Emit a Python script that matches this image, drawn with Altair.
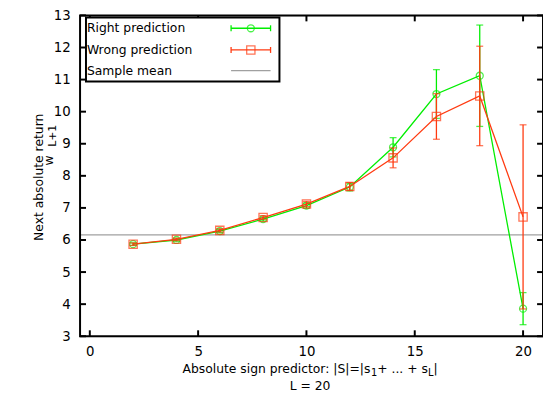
import altair as alt
import pandas as pd

# ---- data ----
L_values = [2, 4, 6, 8, 10, 12, 14, 16, 18, 20]
right_mean = [5.87, 6.00, 6.28, 6.65, 7.07, 7.65, 8.89, 10.55, 11.12, 3.86]
right_err = [0.04, 0.04, 0.05, 0.06, 0.08, 0.12, 0.30, 0.76, 1.58, 0.50]
wrong_mean = [5.87, 6.02, 6.30, 6.70, 7.12, 7.67, 8.56, 9.85, 10.49, 6.72]
wrong_err = [0.04, 0.04, 0.05, 0.06, 0.08, 0.12, 0.31, 0.71, 1.55, 2.87]
sample_mean = 6.16
x_ticks = [0, 5, 10, 15, 20]
y_ticks = [3, 4, 5, 6, 7, 8, 9, 10, 11, 12, 13]
legend_names = ["Right prediction", "Wrong prediction", "Sample mean"]

GREEN = "#00ee00"
RED = "#ff3a10"
GRAY = "#a0a0a0"
FONT = "DejaVu Sans"
FS = 12.5
SUB = 10

W, H = 469, 325
XD = [-0.45, 20.92]
YD = [3, 13]

# approximate DejaVu Sans advance widths (per 1000 em) for laying out the title pieces
DW = {" ": 318, "A": 684, "b": 635, "s": 521, "o": 612, "l": 278, "u": 634, "t": 392, "e": 615,
      "i": 278, "g": 635, "n": 634, "p": 635, "r": 411, "d": 635, "c": 550, ":": 337, "|": 337,
      "S": 635, "=": 838, "+": 838, ".": 318, "L": 557, "1": 636}


def tw(s, size):
    return sum(DW.get(ch, 600) for ch in s) * size / 1000.0


right = pd.DataFrame({"x": L_values, "y": right_mean,
                      "lo": [m - e for m, e in zip(right_mean, right_err)],
                      "hi": [m + e for m, e in zip(right_mean, right_err)]})
wrong = pd.DataFrame({"x": L_values, "y": wrong_mean,
                      "lo": [m - e for m, e in zip(wrong_mean, wrong_err)],
                      "hi": [m + e for m, e in zip(wrong_mean, wrong_err)]})

xs = alt.Scale(domain=XD, nice=False, zero=False)
ys = alt.Scale(domain=YD, nice=False, zero=False)

AX = alt.Axis(values=x_ticks, ticks=False, domain=False, grid=False,
              labelFont=FONT, labelFontSize=13.5, labelColor="black",
              labelPadding=9, labelOverlap=False, title=None)
AY = alt.Axis(values=y_ticks, ticks=False, domain=False, grid=False,
              labelFont=FONT, labelFontSize=13.5, labelColor="black",
              labelPadding=10, labelOverlap=False, labelFlush=False, title=None)


def xq(f="x"):
    return alt.X(f + ":Q", scale=xs, axis=AX)


def yq(f="y"):
    return alt.Y(f + ":Q", scale=ys, axis=AY)


mean_line = alt.Chart(pd.DataFrame({"y": [sample_mean]})).mark_rule(
    color=GRAY, strokeWidth=1.3).encode(y=yq())


def series(df, color, shape, size):
    base = alt.Chart(df)
    line = base.mark_line(color=color, strokeWidth=1.3).encode(x=xq(), y=yq())
    bars = base.mark_rule(color=color, strokeWidth=1.3).encode(x=xq(), y=yq("lo"), y2="hi:Q")
    cap_lo = base.mark_tick(color=color, orient="horizontal", size=7, thickness=1.3).encode(
        x=xq(), y=yq("lo"))
    cap_hi = base.mark_tick(color=color, orient="horizontal", size=7, thickness=1.3).encode(
        x=xq(), y=yq("hi"))
    pts = base.mark_point(color=color, shape=shape, size=size, filled=False, strokeWidth=1.3).encode(
        x=xq(), y=yq())
    return [line, bars, cap_lo, cap_hi, pts]


one = pd.DataFrame({"a": [0]})
frame = alt.Chart(one).mark_rect(fill="white", fillOpacity=0, stroke="black", strokeWidth=2).encode(
    x=alt.value(0), x2=alt.value(W), y=alt.value(0), y2=alt.value(H))

# inward ticks on all four sides
xt = pd.DataFrame({"x": x_ticks})
yt = pd.DataFrame({"y": y_ticks})
TK = 6
tick_layers = [
    alt.Chart(xt).mark_rule(color="black", strokeWidth=2).encode(
        x=xq(), y=alt.value(H), y2=alt.value(H - TK)),
    alt.Chart(xt).mark_rule(color="black", strokeWidth=2).encode(
        x=xq(), y=alt.value(0), y2=alt.value(TK)),
    alt.Chart(yt).mark_rule(color="black", strokeWidth=2).encode(
        y=yq(), x=alt.value(0), x2=alt.value(TK)),
    alt.Chart(yt).mark_rule(color="black", strokeWidth=2).encode(
        y=yq(), x=alt.value(W), x2=alt.value(W - TK)),
]

# legend (drawn manually)
LX0, LY0, LX1, LY1 = 6, 2, 202, 67
leg_y = [13, 35, 56]
leg_box = alt.Chart(one).mark_rect(
    fill="white", stroke="black", strokeWidth=2).encode(
    x=alt.value(LX0), x2=alt.value(LX1), y=alt.value(LY0), y2=alt.value(LY1))
leg_text = [alt.Chart(pd.DataFrame({"t": [n]})).mark_text(
    align="left", baseline="middle", font=FONT, fontSize=FS, color="black").encode(
    text="t:N", x=alt.value(LX0 + 1), y=alt.value(yy)) for n, yy in zip(legend_names, leg_y)]
leg_sym = []
for yy, col, shp, sz, bars in [(leg_y[0], GREEN, "circle", 50, True),
                               (leg_y[1], RED, "square", 70, True),
                               (leg_y[2], GRAY, None, 0, False)]:
    leg_sym.append(alt.Chart(one).mark_rule(color=col, strokeWidth=1.3).encode(
        x=alt.value(153), x2=alt.value(193), y=alt.value(yy)))
    if bars:
        for xx in (153, 193):
            leg_sym.append(alt.Chart(one).mark_rule(color=col, strokeWidth=1.3).encode(
                x=alt.value(xx), y=alt.value(yy - 3), y2=alt.value(yy + 3)))
        leg_sym.append(alt.Chart(one).mark_point(color=col, shape=shp, size=sz, filled=False,
                                                 strokeWidth=1.3).encode(
            x=alt.value(173), y=alt.value(yy)))


def txt(s, x, y, size=FS, angle=0, align="left"):
    return alt.Chart(pd.DataFrame({"t": [s]})).mark_text(
        align=align, baseline="middle", font=FONT, fontSize=size, color="black", angle=angle).encode(
        text="t:N", x=alt.value(x), y=alt.value(y))


# x-axis title with subscripts, laid out piece by piece and centred
pieces = [("Absolute sign predictor: |S|=|s", FS, 0), ("1", SUB, 4), ("+ ... + s", FS, 0),
          ("L", SUB, 4), ("|", FS, 0)]
total = sum(tw(s, sz) for s, sz, _ in pieces)
cx = 233
xt_y = 358
cur = cx - total / 2
titles = []
for s, sz, dy in pieces:
    titles.append(txt(s, cur, xt_y + dy, size=sz))
    cur += tw(s, sz)
titles += [
    txt("L = 20", cx, 375, align="center"),
    # y-axis title (rotated)
    txt("Next absolute return", -42, 164, angle=270, align="center"),
    txt("w", -31, 147, angle=270, align="center"),
    txt("L+1", -27, 122, size=11, angle=270, align="center"),
]

layers = [mean_line] + series(right, GREEN, "circle", 50) + series(wrong, RED, "square", 70) \
    + [frame] + tick_layers + [leg_box] + leg_text + leg_sym + titles

chart = alt.layer(*layers).properties(
    width=W, height=H,
    autosize=alt.AutoSizeParams(type="none"),
    padding={"left": 73, "top": 5, "right": 0, "bottom": 56},
).configure_view(stroke=None).configure(background="white")

chart.save("out.html", embed_options={"renderer": "svg", "actions": False})
